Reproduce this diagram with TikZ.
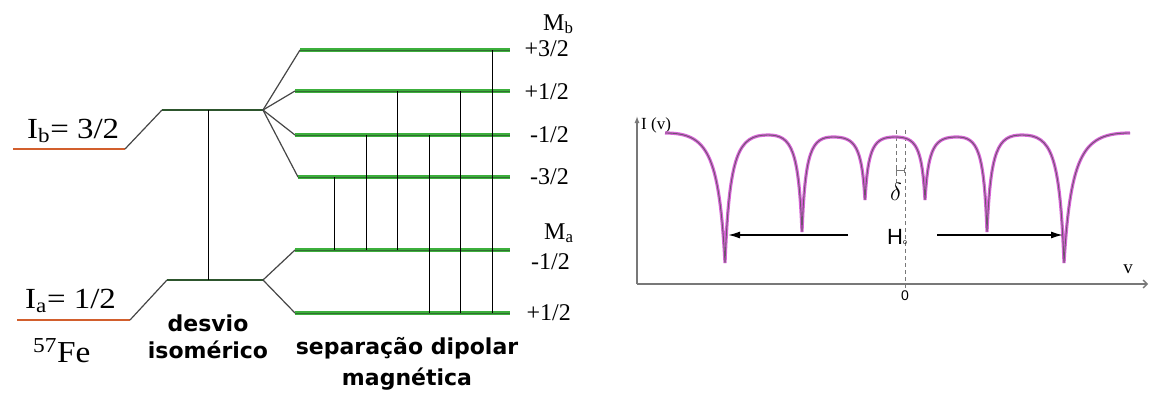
\documentclass[tikz,border=0pt]{standalone}
\usepackage{fontspec}
\usepackage{graphicx}
\setmainfont{Liberation Serif}
\newfontfamily\dvsans{DejaVu Sans}
\newfontfamily\lsans{Liberation Sans}
\usetikzlibrary{arrows.meta}
\definecolor{lvlgreen}{RGB}{60,175,60}
\definecolor{lvlcore}{RGB}{50,110,50}
\definecolor{midgreen}{RGB}{45,140,45}
\definecolor{midcorec}{RGB}{45,85,45}
\definecolor{feorange}{RGB}{210,95,45}
\definecolor{slopegray}{RGB}{70,70,70}
\definecolor{specmag}{RGB}{215,100,215}
\definecolor{speccore}{RGB}{110,85,110}
\definecolor{axisgray}{RGB}{120,120,120}
\tikzset{
  greenlvl/.style={line width=3.2pt,lvlgreen},
  greencore/.style={line width=0.9pt,lvlcore},
  midlvl/.style={line width=2.8pt,midgreen},
  midcore/.style={line width=1.1pt,midcorec},
  orangelvl/.style={line width=2.8pt,feorange},
  slope/.style={line width=1.2pt,slopegray},
  trans/.style={line width=1pt,black},
  serlabel/.style={font=\fontsize{24}{26}\selectfont,inner sep=0pt},
  boldlabel/.style={font=\dvsans\bfseries\fontsize{22}{27}\selectfont,align=center,inner sep=0pt},
  axisline/.style={line width=1.3pt,axisgray},
  dashline/.style={line width=0.8pt,axisgray,dash pattern=on 4pt off 3pt},
  specwide/.style={line width=3.2pt,specmag},
  specthin/.style={line width=0.9pt,speccore},
  harrow/.style={line width=1.5pt,black,-{Latex[length=12pt,width=7pt]}}
}
\begin{document}
\begin{tikzpicture}[x=1pt,y=-1pt]
\useasboundingbox[fill=white] (0,0) rectangle (1157,394);
% ---------- left: level scheme ----------
\coordinate (ib0) at (13,149);
\coordinate (ib1) at (125,149);
\coordinate (ib2) at (162,110);
\coordinate (c3) at (263,110);
\coordinate (ia0) at (17,320);
\coordinate (ia1) at (130,320);
\coordinate (ia2) at (167,280);
\coordinate (c1) at (263,280);
\coordinate (is1) at (208,110);
\coordinate (is2) at (208,280);
% sublevels
\coordinate (b3s) at (300,50);  \coordinate (b3e) at (510,50);
\coordinate (b1s) at (295,91);  \coordinate (b1e) at (510,91);
\coordinate (bm1s) at (295,135); \coordinate (bm1e) at (510,135);
\coordinate (bm3s) at (298,177); \coordinate (bm3e) at (510,177);
\coordinate (am1s) at (295,250); \coordinate (am1e) at (510,250);
\coordinate (ap1s) at (295,313); \coordinate (ap1e) at (510,313);
% unsplit levels
\draw[orangelvl] (ib0) -- (ib1);
\draw[orangelvl] (ia0) -- (ia1);
\draw[slope] (ib1) -- (ib2);
\draw[slope] (ia1) -- (ia2);
\draw[midlvl] (ib2) -- (c3);
\draw[midcore] (ib2) -- (c3);
\draw[midlvl] (ia2) -- (c1);
\draw[midcore] (ia2) -- (c1);
\draw[trans] (is1) -- (is2);
% fans
\foreach \s in {b3s,b1s,bm1s,bm3s} \draw[slope] (c3) -- (\s);
\foreach \s in {am1s,ap1s} \draw[slope] (c1) -- (\s);
% split levels
\foreach \a/\b in {b3s/b3e,b1s/b1e,bm1s/bm1e,bm3s/bm3e,am1s/am1e,ap1s/ap1e}{
  \draw[greenlvl] (\a) -- (\b);
  \draw[greencore] (\a) -- (\b);
}
% transitions
\foreach \x/\yt/\yb in {334/177/250,366/135/250,397/91/250,429/135/313,460/91/313,492/50/313}{
  \coordinate (tt\x) at (\x,\yt);
  \coordinate (tb\x) at (\x,\yb);
  \draw[trans] (tt\x) -- (tb\x);
}
% labels
\node[anchor=base west,inner sep=0pt] (lib) at (27,138) {\scalebox{1.22}[1.08]{\fontsize{27}{29}\selectfont I\textsubscript{b}= 3/2}};
\node[anchor=base west,inner sep=0pt] (lia) at (25,308) {\scalebox{1.22}[1.08]{\fontsize{27}{29}\selectfont I\textsubscript{a}= 1/2}};
\node[anchor=base west,inner sep=0pt] (lfe) at (33,362) {\scalebox{1.15}[1.05]{\fontsize{29}{30}\selectfont\textsuperscript{57}Fe}};
\node[boldlabel,anchor=base] (ldes) at (208,358) {desvio\\isomérico};
\node[boldlabel,font=\dvsans\bfseries\fontsize{22}{31}\selectfont,anchor=base] (lsep) at (407,385) {separação dipolar\\magnética};
\node[serlabel,anchor=base west] (lmb) at (543,30) {M\textsubscript{b}};
\node[serlabel,anchor=east] (l1) at (569,49) {+3/2};
\node[serlabel,anchor=east] (l2) at (569,92) {+1/2};
\node[serlabel,anchor=east] (l3) at (569,135) {-1/2};
\node[serlabel,anchor=east] (l4) at (569,177) {-3/2};
\node[serlabel,anchor=base west] (lma) at (544,239) {M\textsubscript{a}};
\node[serlabel,anchor=east] (l5) at (570,262) {-1/2};
\node[serlabel,anchor=east] (l6) at (571,313) {+1/2};
% ---------- right: spectrum ----------
\coordinate (org) at (637,284);
\coordinate (ytop) at (637,116);
\coordinate (xend) at (1148,284);
\draw[axisline,-{Latex[length=7pt,width=5pt]}] (org) -- (ytop);
\draw[axisline,-{Straight Barb[length=4pt,width=8pt]}] (org) -- (xend);
\node[inner sep=0pt,font=\fontsize{17}{18}\selectfont,anchor=west] (liv) at (641,125) {I (v)};
\node[inner sep=0pt,font=\fontsize{19}{20}\selectfont] (lv) at (1128,269) {v};
\node[inner sep=0pt,font=\lsans\fontsize{14}{15}\selectfont] (l0) at (905,296) {0};
% dashed
\coordinate (d1t) at (896,130); \coordinate (d1b) at (896,187);
\coordinate (d2t) at (905,130); \coordinate (d2b) at (905,290);
\draw[dashline] (d1t) -- (d1b);
\draw[dashline] (d2t) -- (d2b);
\coordinate (dl) at (896,170); \coordinate (dr) at (905,170);
\draw[line width=0.7pt,axisgray,{Bar[width=5pt]}-{Bar[width=5pt]}] (dl) -- (dr);
\node[inner sep=0pt,font=\fontsize{25}{26}\selectfont] (ldel) at (896,192) {$\delta$};
\node[inner sep=0pt,font=\lsans\fontsize{22}{24}\selectfont,anchor=base west] (lh) at (887,244) {H\fontsize{7}{7}\selectfont o};
% spectrum curve
\def\spec{(665,133) .. controls (707,133) and (719,152.5) .. (725,263)
 .. controls (729.3,154.2) and (737.9,135) .. (768,135)
 .. controls (791.8,135) and (798.6,149.6) .. (802,232)
 .. controls (805.1,151.3) and (811.3,137) .. (833,137)
 .. controls (855.4,137) and (861.8,146.5) .. (865,200)
 .. controls (868,146.5) and (874,137) .. (895,137)
 .. controls (916,137) and (922,146.5) .. (925,200)
 .. controls (928.2,146.5) and (934.6,137) .. (957,137)
 .. controls (978,137) and (984,151.3) .. (987,232)
 .. controls (990.5,149.6) and (997.5,135) .. (1022,135)
 .. controls (1051.4,135) and (1059.8,154.2) .. (1064,263)
 .. controls (1070.6,152.5) and (1083.8,133) .. (1130,133)}
\draw[specwide] \spec;
\draw[specthin] \spec;
% arrows
\coordinate (la0) at (848,235); \coordinate (la1) at (728,235);
\coordinate (ra0) at (937,235); \coordinate (ra1) at (1063,235);
\draw[harrow] (la0) -- (la1);
\draw[harrow] (ra0) -- (ra1);
\end{tikzpicture}
\end{document}
